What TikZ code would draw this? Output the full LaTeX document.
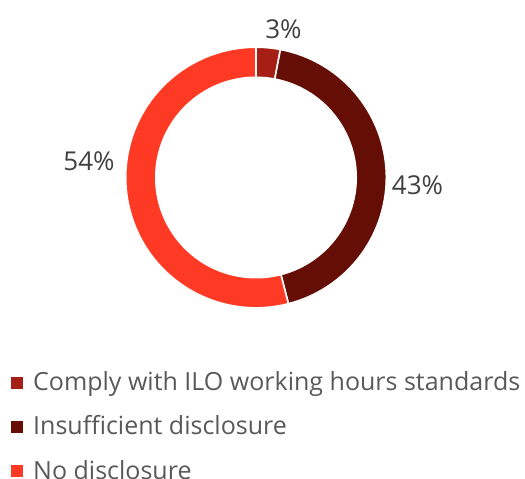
\documentclass[tikz,border=0pt]{standalone}
\usepackage{fontspec}
\setmainfont{Open Sans}
\usetikzlibrary{calc}
\definecolor{cComply}{HTML}{A61F14}
\definecolor{cInsuf}{HTML}{640E06}
\definecolor{cNo}{HTML}{FF3A24}
\definecolor{labelgray}{HTML}{404040}
\definecolor{legendgray}{HTML}{595959}
\tikzset{
  slice/.style={draw=white, line width=1.6pt},
  pctlabel/.style={font=\fontsize{26}{30}\selectfont, text=labelgray, anchor=base, inner sep=0pt},
  legtext/.style={font=\fontsize{25}{30}\selectfont, text=legendgray, anchor=base west, inner sep=0pt},
  legbox/.style={minimum size=12pt, inner sep=0pt, anchor=center},
}
\begin{document}
\begin{tikzpicture}[x=1pt,y=1pt]
\useasboundingbox (0,0) rectangle (525,-479);
\coordinate (c) at (256,-177.5);
\def\Ro{130.3}
\def\Ri{100.2}
% slices
\filldraw[slice, fill=cComply] ($(c)+(90:\Ro)$) arc[start angle=90, end angle=79.2, radius=\Ro] -- ($(c)+(79.2:\Ri)$) arc[start angle=79.2, end angle=90, radius=\Ri] -- cycle;
\filldraw[slice, fill=cInsuf] ($(c)+(79.2:\Ro)$) arc[start angle=79.2, end angle=-75.6, radius=\Ro] -- ($(c)+(-75.6:\Ri)$) arc[start angle=-75.6, end angle=79.2, radius=\Ri] -- cycle;
\filldraw[slice, fill=cNo] ($(c)+(-75.6:\Ro)$) arc[start angle=-75.6, end angle=-270, radius=\Ro] -- ($(c)+(-270:\Ri)$) arc[start angle=-270, end angle=-75.6, radius=\Ri] -- cycle;
% labels
\node[pctlabel] (l3) at (283.5,-38) {3\%};
\node[pctlabel] (l43) at (417.5,-194) {43\%};
\node[pctlabel] (l54) at (89,-170) {54\%};
% legend
\node[legbox, fill=cComply] (b1) at (17,-382.5) {};
\node[legtext] (t1) at (33,-390) {Comply with ILO working hours standards};
\node[legbox, fill=cInsuf] (b2) at (17,-426.5) {};
\node[legtext] (t2) at (33,-434.5) {Insufficient disclosure};
\node[legbox, fill=cNo] (b3) at (17,-471) {};
\node[legtext] (t3) at (33,-479) {No disclosure};
\end{tikzpicture}
\end{document}
